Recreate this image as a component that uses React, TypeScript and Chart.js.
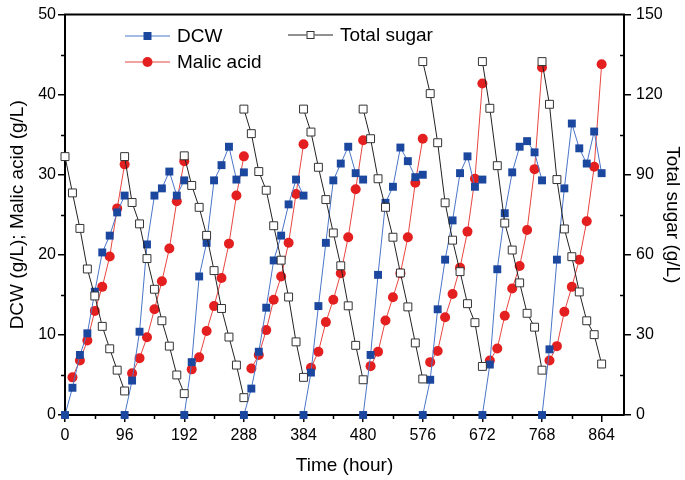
import React, { useEffect, useRef } from "react";
import { Chart, registerables } from "chart.js";

Chart.register(...registerables);

// ---- data ----
const batchStartHours = [0, 96, 192, 288, 384, 480, 576, 672, 768];
const sampleHours = [0, 12, 24, 36, 48, 60, 72, 84, 96];
const malicSampleHours = [12, 24, 36, 48, 60, 72, 84, 96];

const xTickValues = [0, 96, 192, 288, 384, 480, 576, 672, 768, 864];
const xMinorTicks = [48, 144, 240, 336, 432, 528, 624, 720, 816];
const leftMinorTicks = [5, 15, 25, 35, 45];
const rightMinorTicks = [15, 45, 75, 105, 135];

// DCW (g/L), one row per batch, at sampleHours
const dcwByBatch = [
  [0, 3.4, 7.5, 10.2, 15.4, 20.3, 22.4, 25.3, 27.4],
  [0, 4.3, 10.4, 21.3, 27.4, 28.3, 30.4, 27.4, 29.3],
  [0, 6.6, 17.3, 21.5, 29.3, 31.2, 33.5, 29.4, 30.3],
  [0, 3.3, 7.9, 13.4, 19.3, 22.4, 26.3, 29.4, 27.4],
  [0, 5.3, 13.6, 21.5, 29.3, 31.4, 33.5, 30.2, 29.4],
  [0, 7.5, 17.5, 26.5, 28.5, 33.4, 31.7, 29.7, 30.0],
  [0, 4.4, 13.2, 19.4, 24.3, 30.2, 32.3, 28.5, 29.4],
  [0, 6.3, 18.2, 25.2, 30.3, 33.5, 34.2, 32.8, 29.3],
  [0, 8.2, 19.4, 28.3, 36.4, 33.3, 31.4, 35.4, 30.2],
];

// Malic acid (g/L), one row per batch, at malicSampleHours
const malicByBatch = [
  [4.7, 6.8, 9.3, 13.0, 16.0, 19.8, 25.8, 31.3],
  [5.2, 7.1, 9.7, 13.2, 16.7, 20.8, 26.7, 31.7],
  [5.7, 7.2, 10.5, 13.6, 17.1, 21.4, 27.4, 32.3],
  [5.8, 7.5, 10.6, 14.4, 17.3, 21.5, 27.6, 33.8],
  [5.9, 7.9, 11.6, 14.4, 17.7, 22.2, 28.2, 34.3],
  [6.1, 7.9, 11.8, 14.7, 17.7, 22.2, 29.0, 34.5],
  [6.6, 8.0, 12.2, 15.1, 18.4, 22.9, 29.5, 41.4],
  [6.8, 8.3, 12.4, 15.8, 18.6, 23.1, 30.7, 43.4],
  [6.8, 8.6, 12.9, 16.0, 19.4, 24.2, 31.0, 43.8],
];

// Total sugar (g/L), one row per batch, at sampleHours
const sugarByBatch = [
  [96.8, 83.2, 69.9, 54.7, 44.6, 33.2, 24.8, 16.8, 9.0],
  [96.8, 79.6, 71.6, 58.6, 47.1, 35.3, 25.8, 15.0, 8.0],
  [97.1, 86.0, 77.8, 67.3, 54.1, 39.9, 29.2, 18.7, 6.5],
  [114.6, 105.4, 91.2, 84.2, 70.9, 58.0, 44.2, 27.4, 14.1],
  [114.6, 106.0, 92.8, 80.7, 68.2, 55.9, 40.9, 26.1, 13.2],
  [114.6, 103.5, 88.5, 77.8, 66.6, 53.2, 40.5, 27.0, 13.5],
  [132.4, 120.4, 102.0, 79.5, 65.5, 53.7, 41.7, 34.6, 18.2],
  [132.4, 114.9, 93.4, 71.9, 61.8, 49.5, 38.1, 32.9, 16.8],
  [132.4, 116.4, 88.2, 69.7, 59.3, 46.1, 35.3, 30.1, 19.1],
];

const FONT = "'Liberation Sans', Arial, Helvetica, sans-serif";
const DCW_COLOR = "#1b479f";
const DCW_LINE = "#4a74c8";
const MALIC_COLOR = "#e3201f";
const MALIC_LINE = "#e8453f";
const SUGAR_LINE = "#222222";

function buildSeries(values: number[][], hours: number[]) {
  const pts: { x: number; y: number | null }[] = [];
  values.forEach((batch, b) => {
    batch.forEach((v, i) => pts.push({ x: batchStartHours[b] + hours[i], y: v }));
    pts.push({ x: batchStartHours[b] + 96, y: null });
  });
  return pts;
}

const framePlugin = {
  id: "frameAndMinor",
  afterDraw(chart: any) {
    const { ctx, chartArea } = chart;
    const xs = chart.scales.x;
    const ys = chart.scales.y;
    const y2 = chart.scales.y2;
    ctx.save();
    ctx.strokeStyle = "#000";
    ctx.lineWidth = 1.5;
    ctx.beginPath();
    xMinorTicks.forEach((v) => {
      const px = Math.round(xs.getPixelForValue(v)) + 0.5;
      ctx.moveTo(px, chartArea.bottom);
      ctx.lineTo(px, chartArea.bottom + 4);
    });
    leftMinorTicks.forEach((v) => {
      const py = Math.round(ys.getPixelForValue(v)) + 0.5;
      ctx.moveTo(chartArea.left, py);
      ctx.lineTo(chartArea.left - 4, py);
    });
    rightMinorTicks.forEach((v) => {
      const py = Math.round(y2.getPixelForValue(v)) + 0.5;
      ctx.moveTo(chartArea.right, py);
      ctx.lineTo(chartArea.right - 4, py);
    });
    ctx.stroke();
    // top frame line
    ctx.lineWidth = 2;
    ctx.beginPath();
    ctx.moveTo(chartArea.left - 1, chartArea.top);
    ctx.lineTo(chartArea.right + 1, chartArea.top);
    ctx.stroke();
    ctx.restore();
  },
};

const legendPlugin = {
  id: "customLegend",
  afterDraw(chart: any) {
    const ctx = chart.ctx;
    ctx.save();
    ctx.font = `19px ${FONT}`;
    ctx.textBaseline = "middle";
    ctx.fillStyle = "#000";
    const items = [
      { label: "DCW", x0: 125, x1: 170, y: 36, tx: 177, kind: "dcw" },
      { label: "Malic acid", x0: 125, x1: 170, y: 62, tx: 177, kind: "malic" },
      { label: "Total sugar", x0: 288, x1: 333, y: 35, tx: 340, kind: "sugar" },
    ];
    items.forEach((it) => {
      const mx = (it.x0 + it.x1) / 2;
      ctx.lineWidth = 1;
      ctx.strokeStyle = it.kind === "dcw" ? DCW_LINE : it.kind === "malic" ? MALIC_LINE : SUGAR_LINE;
      ctx.beginPath();
      ctx.moveTo(it.x0, it.y);
      ctx.lineTo(it.x1, it.y);
      ctx.stroke();
      if (it.kind === "dcw") {
        ctx.fillStyle = DCW_COLOR;
        ctx.fillRect(mx - 4, it.y - 4, 8, 8);
      } else if (it.kind === "malic") {
        ctx.fillStyle = MALIC_COLOR;
        ctx.beginPath();
        ctx.arc(mx, it.y, 5, 0, Math.PI * 2);
        ctx.fill();
      } else {
        ctx.fillStyle = "#fff";
        ctx.fillRect(mx - 4, it.y - 4, 8, 8);
        ctx.strokeStyle = "#333";
        ctx.strokeRect(mx - 3.5, it.y - 3.5, 7, 7);
      }
      ctx.fillStyle = "#000";
      ctx.fillText(it.label, it.tx, it.y + 1);
    });
    ctx.restore();
  },
};

export default function App() {
  const canvasRef = useRef<HTMLCanvasElement | null>(null);

  useEffect(() => {
    if (!canvasRef.current) return;
    Chart.defaults.font.family = FONT;
    Chart.defaults.color = "#000";

    const axisGrid = {
      display: true,
      drawOnChartArea: false,
      drawTicks: true,
      tickLength: 7,
      color: "#000",
      lineWidth: 1.5,
    };
    const axisBorder = { display: true, color: "#000", width: 2 };

    const chart = new Chart(canvasRef.current, {
      type: "line",
      data: {
        datasets: [
          {
            label: "Total sugar",
            data: buildSeries(sugarByBatch, sampleHours),
            yAxisID: "y2",
            borderColor: SUGAR_LINE,
            borderWidth: 1,
            pointStyle: "rect",
            pointRadius: 5.6,
            pointBackgroundColor: "#ffffff",
            pointBorderColor: "#333333",
            pointBorderWidth: 1,
            tension: 0,
            spanGaps: false,
            clip: false,
          },
          {
            label: "DCW",
            data: buildSeries(dcwByBatch, sampleHours),
            yAxisID: "y",
            borderColor: DCW_LINE,
            borderWidth: 1,
            pointStyle: "rect",
            pointRadius: 5.6,
            pointBackgroundColor: DCW_COLOR,
            pointBorderColor: DCW_COLOR,
            pointBorderWidth: 0,
            tension: 0,
            spanGaps: false,
            clip: false,
          },
          {
            label: "Malic acid",
            data: buildSeries(malicByBatch, malicSampleHours),
            yAxisID: "y",
            borderColor: MALIC_LINE,
            borderWidth: 1,
            pointStyle: "circle",
            pointRadius: 5,
            pointBackgroundColor: MALIC_COLOR,
            pointBorderColor: MALIC_COLOR,
            pointBorderWidth: 0,
            tension: 0,
            spanGaps: false,
            clip: false,
          },
        ],
      },
      options: {
        responsive: false,
        animation: false,
        events: [],
        layout: { padding: { top: 8, left: 0, right: 0, bottom: 0 } },
        plugins: {
          legend: { display: false },
          tooltip: { enabled: false },
        },
        scales: {
          x: {
            type: "linear",
            min: 0,
            max: 900,
            afterBuildTicks: (s: any) => {
              s.ticks = xTickValues.map((v) => ({ value: v }));
            },
            afterFit: (s: any) => {
              s.height = 65;
            },
            ticks: {
              font: { size: 16 },
              color: "#000",
              padding: 4,
              maxRotation: 0,
              autoSkip: false,
            },
            grid: axisGrid,
            border: axisBorder,
            title: {
              display: true,
              text: "Time (hour)",
              font: { size: 19 },
              color: "#000",
              padding: { top: 0, bottom: 3 },
            },
          },
          y: {
            type: "linear",
            position: "left",
            min: 0,
            max: 50,
            ticks: { stepSize: 10, font: { size: 16 }, color: "#000", padding: 2 },
            afterFit: (s: any) => {
              s.width = 65;
            },
            grid: axisGrid,
            border: axisBorder,
            title: {
              display: true,
              text: "DCW (g/L); Malic acid (g/L)",
              font: { size: 19 },
              color: "#000",
              padding: { top: 6, bottom: 0 },
            },
          },
          y2: {
            type: "linear",
            position: "right",
            min: 0,
            max: 150,
            ticks: { stepSize: 30, font: { size: 16 }, color: "#000", padding: 5 },
            afterFit: (s: any) => {
              s.width = 61;
            },
            grid: axisGrid,
            border: axisBorder,
            title: {
              display: true,
              text: "Total sugar (g/L)",
              font: { size: 19 },
              color: "#000",
              padding: { top: 1, bottom: 0 },
            },
          },
        },
      } as any,
      plugins: [framePlugin, legendPlugin],
    });

    return () => {
      chart.destroy();
    };
  }, []);

  return (
    <div
      style={{
        position: "fixed",
        left: 0,
        top: 0,
        width: 685,
        height: 480,
        background: "#fff",
      }}
    >
      <canvas ref={canvasRef} width={685} height={480} style={{ display: "block", width: 685, height: 480 }} />
    </div>
  );
}
